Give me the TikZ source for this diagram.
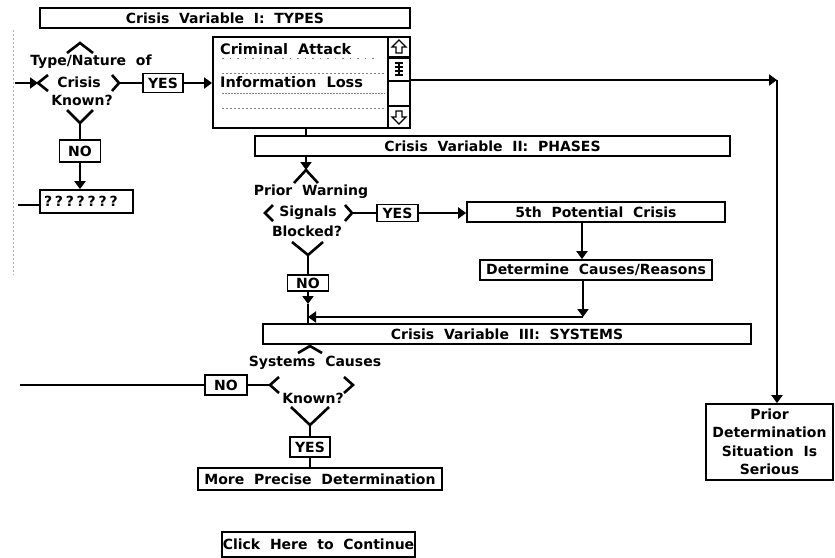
\documentclass[tikz,border=0pt]{standalone}
\usepackage{fontspec}
\setmainfont{DejaVu Sans}[WordSpace=2]
\usetikzlibrary{arrows.meta}
\begin{document}
\begin{tikzpicture}[x=1pt,y=-1pt,
  bx/.style={draw, line width=1.7pt, inner sep=0pt, font=\bfseries\fontsize{14}{16}\selectfont},
  arr/.style={line width=2pt, -{Triangle[length=8pt,width=11pt]}},
  ln/.style={line width=2pt},
  dm/.style={line width=2.6pt},
  lbl/.style={inner sep=0pt, font=\bfseries\fontsize{14}{16}\selectfont},
  big/.style={inner sep=0pt, anchor=west, font=\bfseries\fontsize{14.5}{18}\selectfont},
  junk/.style={gray, line width=0.9pt, dash pattern=on 1.5pt off 2.5pt},
  icon/.style={line width=1.4pt}]
\useasboundingbox (0,0) rectangle (835,557);

% faint scan dots at left margin
\coordinate (m1) at (13,30);
\coordinate (m2) at (13,275);
\draw[junk, gray!60] (m1) -- (m2);

% ---------- boxes ----------
\node[bx, minimum width=370, minimum height=20] (t1) at (225,18) {Crisis Variable I: TYPES};
\node[draw, line width=1.9pt, minimum width=175, minimum height=91, inner sep=0pt] (list) at (300.5,82.5) {};
\node[draw, line width=1.9pt, minimum width=22, minimum height=91, inner sep=0pt] (scroll) at (399,82.5) {};
\node[draw, line width=1.6pt, minimum width=22, minimum height=20, inner sep=0pt] (upc) at (399,47) {};
\node[draw, line width=1.6pt, minimum width=22, minimum height=23, inner sep=0pt] (thumb) at (399,69.5) {};
\node[draw, line width=1.6pt, minimum width=22, minimum height=22, inner sep=0pt] (downc) at (399,117) {};
\node[big] (ca) at (220,49) {Criminal Attack};
\node[big] (il) at (220,82) {Information Loss};
\node[bx, minimum width=40, minimum height=19] (yes1) at (163,83) {YES};
\node[bx, minimum width=41, minimum height=22] (no1) at (80,151) {NO};
\node[bx, minimum width=93, minimum height=23, text width=85, align=left] (q) at (86.5,201.5) {\addfontfeatures{LetterSpace=20}???????};
\node[bx, minimum width=475, minimum height=20] (ph) at (492.5,146) {Crisis Variable II: PHASES};
\node[bx, minimum width=41, minimum height=17] (yes2) at (397.5,213) {YES};
\node[bx, minimum width=258, minimum height=20] (fifth) at (596,212) {5th Potential Crisis};
\node[bx, minimum width=232, minimum height=20] (det) at (596,270) {Determine Causes/Reasons};
\node[bx, minimum width=41, minimum height=16] (no2) at (308,283) {NO};
\node[bx, minimum width=488, minimum height=20] (sys) at (507,334) {Crisis Variable III: SYSTEMS};
\node[bx, minimum width=42, minimum height=20] (no3) at (226,385) {NO};
\node[bx, minimum width=40, minimum height=20] (yes3) at (310,447) {YES};
\node[bx, minimum width=244, minimum height=22] (more) at (320,479) {More Precise Determination};
\node[bx, minimum width=127, minimum height=76, align=center, font=\bfseries\fontsize{14}{18.5}\selectfont] (prior) at (769.5,442) {Prior\\Determination\\Situation Is\\Serious};
\node[bx, minimum width=193, minimum height=25] (click) at (318.5,544.5) {Click Here to Continue};

% faint scanned lines inside the list
\coordinate (k1) at (222,58);  \coordinate (k2) at (375,58);
\coordinate (k3) at (222,73);  \coordinate (k4) at (385,73);
\coordinate (k5) at (222,93);  \coordinate (k6) at (385,93);
\coordinate (k7) at (222,108); \coordinate (k8) at (385,108);
\draw[junk, dash pattern=on 1.5pt off 6pt] (k1) -- (k2);
\draw[junk] (k3) -- (k4);
\draw[junk, dash pattern=on 2pt off 1pt] (k5) -- (k6);
\draw[junk] (k7) -- (k8);

% scroll icons
\draw[icon] (399,40) -- (406,47) -- (402,47) -- (402,53) -- (396,53) -- (396,47) -- (392,47) -- cycle;
\draw[icon] (399,124) -- (406,117) -- (402,117) -- (402,111) -- (396,111) -- (396,117) -- (392,117) -- cycle;
\draw[icon] (395,63) -- (403,63) (395,67) -- (403,67) (395,71) -- (403,71) (395,75) -- (403,75) (399,63) -- (399,75);

% ---------- decision 1 ----------
\coordinate (d1t) at (80,43);
\coordinate (d1l) at (38,83);
\coordinate (d1r) at (119,83);
\coordinate (d1b) at (80,123);
\draw[dm] (67,53) -- (d1t) -- (93,53);
\draw[dm] (48,75) -- (d1l) -- (48,91);
\draw[dm] (112,75) -- (d1r) -- (112,91);
\draw[dm] (67,110) -- (d1b) -- (93,110);
\node[lbl] (d1a) at (91,62) {Type/Nature of};
\node[lbl] (d1c) at (79,82) {Crisis};
\node[lbl] (d1k) at (82,100) {Known?};

% ---------- decision 2 ----------
\coordinate (d2t) at (306,170);
\coordinate (d2l) at (265,213);
\coordinate (d2r) at (352,213);
\coordinate (d2b) at (308,255);
\draw[dm] (294,183) -- (d2t) -- (318,183);
\draw[dm] (273,205) -- (d2l) -- (273,221);
\draw[dm] (345,205) -- (d2r) -- (345,221);
\draw[dm] (292,242) -- (d2b) -- (323,242);
\node[lbl] (d2a) at (311,192) {Prior Warning};
\node[lbl] (d2c) at (308,213) {Signals};
\node[lbl] (d2k) at (307,231) {Blocked?};

% ---------- decision 3 ----------
\coordinate (d3t) at (310,346);
\coordinate (d3l) at (270,385);
\coordinate (d3r) at (353,385);
\coordinate (d3b) at (310,425);
\draw[dm] (298,353) -- (d3t) -- (322,353);
\draw[dm] (279,377) -- (d3l) -- (279,393);
\draw[dm] (344,377) -- (d3r) -- (344,393);
\draw[dm] (291,407) -- (d3b) -- (329,407);
\node[lbl] (d3a) at (315,363) {Systems Causes};
\node[lbl] (d3k) at (313,398) {Known?};

% ---------- connectors ----------
\coordinate (in1) at (15,83);
\draw[arr] (in1) -- (d1l);
\draw[ln] (d1r) -- (yes1.west);
\draw[arr] (yes1.east) -- (yes1.east -| list.west);
\draw[ln] (d1b) -- (no1.north);
\draw[arr] (no1.south) -- (no1.south |- q.north);
\coordinate (qin) at (18,205);
\draw[ln] (qin) -- (qin -| q.west);

\coordinate (c1) at (777,80);
\draw[arr] (scroll.east |- c1) -- (c1);
\draw[arr] (c1) -- (c1 |- prior.north);

\draw[ln] ([xshift=5pt]list.south) -- ([xshift=5pt]list.south |- ph.north);
\draw[arr] (ph.south -| d2t) -- (d2t);
\draw[ln] (d2r) -- (d2r -| yes2.west);
\draw[arr] (yes2.east) -- (yes2.east -| fifth.west);
\draw[arr] ([xshift=-14pt]fifth.south) -- ([xshift=-14pt]det.north);
\draw[ln] (d2b) -- (no2.north);
\coordinate (j0) at (308,304);
\coordinate (j1) at (308,317);
\coordinate (j2) at (583,317);
\draw[arr] (no2.south) -- (j0);
\draw[ln] (j0) -- (j0 |- sys.north);
\draw[arr] (det.south -| j2) -- (j2);
\draw[arr] (j2) -- (j1);
\draw[ln] (sys.south -| d3t) -- (d3t);

\coordinate (out3) at (20,386);
\draw[ln] (d3l) -- (d3l -| no3.east);
\draw[ln] (no3.west) -- (no3.west -| out3);
\draw[ln] (d3b) -- (yes3.north);
\draw[ln] (yes3.south) -- (yes3.south |- more.north);
\end{tikzpicture}
\end{document}
